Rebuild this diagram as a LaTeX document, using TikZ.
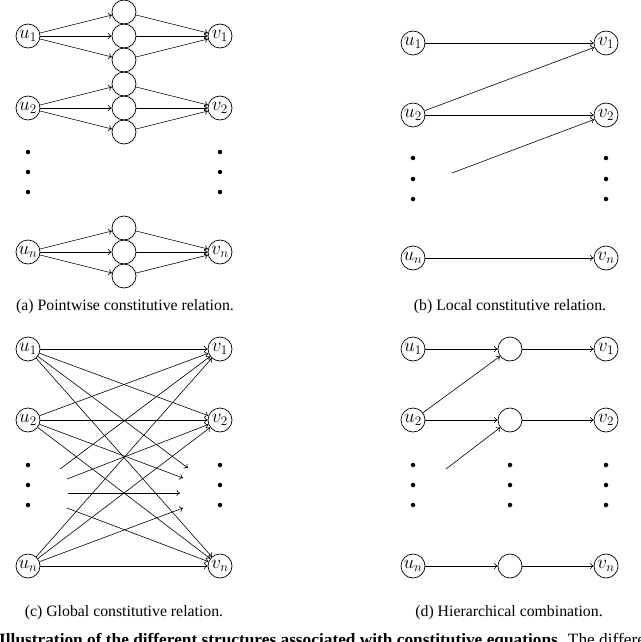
\documentclass[tikz,border=0pt]{standalone}
\usepackage{fontspec}
\setmainfont{Liberation Serif}
\usetikzlibrary{arrows.meta}
\newcommand\lab[1]{\scalebox{1.1}{$#1$}}
\begin{document}
\begin{tikzpicture}[x=1pt,y=-1pt,
  nd/.style={circle,draw,line width=0.7pt,minimum size=24pt,inner sep=0pt,font=\fontsize{18}{20}\selectfont},
  hid/.style={circle,draw,line width=0.7pt,minimum size=24pt,inner sep=0pt},
  ar/.style={line width=0.6pt,-{To[length=3.5pt,width=6pt]}},
  dotn/.style={circle,fill,inner sep=0pt,minimum size=4.5pt},
  captxt/.style={anchor=base,font=\fontsize{15.8}{18}\selectfont}]
\useasboundingbox (0,0) rectangle (640,642);
\clip (0,0) rectangle (640,642);

% ---------------- (a) ----------------
\node[nd] (au1) at (28,36) {\lab{u_1}};
\node[nd] (au2) at (28,108) {\lab{u_2}};
\node[nd] (aun) at (28,252) {\lab{u_n}};
\node[nd] (av1) at (220,36) {\lab{v_1}};
\node[nd] (av2) at (220,108) {\lab{v_2}};
\node[nd] (avn) at (220,252) {\lab{v_n}};
\foreach \i/\y in {1/12,2/36,3/60,4/84,5/108,6/132,7/228,8/252,9/276}
  \node[hid] (am\i) at (124,\y) {};
\foreach \y [count=\k] in {152,172,192} {
  \node[dotn] (adl\k) at (28,\y) {};
  \node[dotn] (adr\k) at (220,\y) {};
}
\foreach \m in {1,2,3} { \draw[ar] (au1) -- (am\m); \draw[ar] (am\m) -- (av1); }
\foreach \m in {4,5,6} { \draw[ar] (au2) -- (am\m); \draw[ar] (am\m) -- (av2); }
\foreach \m in {7,8,9} { \draw[ar] (aun) -- (am\m); \draw[ar] (am\m) -- (avn); }
\node[captxt] (capa) at (125,310) {(a) Pointwise constitutive relation.};

% ---------------- (b) ----------------
\node[nd] (bu1) at (413,43) {\lab{u_1}};
\node[nd] (bu2) at (413,115) {\lab{u_2}};
\node[nd] (bun) at (413,258) {\lab{u_n}};
\node[nd] (bv1) at (606,43) {\lab{v_1}};
\node[nd] (bv2) at (606,115) {\lab{v_2}};
\node[nd] (bvn) at (606,258) {\lab{v_n}};
\foreach \y [count=\k] in {158,179,199} {
  \node[dotn] (bdl\k) at (413,\y) {};
  \node[dotn] (bdr\k) at (606,\y) {};
}
\coordinate (bfree) at (452,173);
\draw[ar] (bu1) -- (bv1);
\draw[ar] (bu2) -- (bv1);
\draw[ar] (bu2) -- (bv2);
\draw[ar] (bfree) -- (bv2);
\draw[ar] (bun) -- (bvn);
\node[captxt] (capb) at (510,310) {(b) Local constitutive relation.};

% ---------------- (c) ----------------
\node[nd] (cu1) at (28,349) {\lab{u_1}};
\node[nd] (cu2) at (28,420) {\lab{u_2}};
\node[nd] (cun) at (28,566) {\lab{u_n}};
\node[nd] (cv1) at (220,349) {\lab{v_1}};
\node[nd] (cv2) at (220,420) {\lab{v_2}};
\node[nd] (cvn) at (220,566) {\lab{v_n}};
\foreach \y [count=\k] in {465,485,505} {
  \node[dotn] (cdl\k) at (28,\y) {};
  \node[dotn] (cdr\k) at (220,\y) {};
}
\coordinate (cl1) at (60,469);
\coordinate (cl2) at (67,479);
\coordinate (cl3) at (68,493);
\coordinate (cl4) at (67,508);
\coordinate (cr1) at (188,468);
\coordinate (cr2) at (183,478);
\coordinate (cr3) at (180,493);
\coordinate (cr4) at (183,508);
\draw[ar] (cu1) -- (cv1);
\draw[ar] (cu1) -- (cv2);
\draw[ar] (cu1) -- (cr1);
\draw[ar] (cu1) -- (cvn);
\draw[ar] (cu2) -- (cv1);
\draw[ar] (cu2) -- (cv2);
\draw[ar] (cu2) -- (cr2);
\draw[ar] (cu2) -- (cvn);
\draw[ar] (cl1) -- (cv1);
\draw[ar] (cl2) -- (cv2);
\draw[ar] (cl3) -- (cr3);
\draw[ar] (cl4) -- (cvn);
\draw[ar] (cun) -- (cv1);
\draw[ar] (cun) -- (cv2);
\draw[ar] (cun) -- (cr4);
\draw[ar] (cun) -- (cvn);
\node[captxt] (capc) at (124,616) {(c) Global constitutive relation.};

% ---------------- (d) ----------------
\node[nd] (du1) at (413,349) {\lab{u_1}};
\node[nd] (du2) at (413,420) {\lab{u_2}};
\node[nd] (dun) at (413,566) {\lab{u_n}};
\node[hid] (dm1) at (510,349) {};
\node[hid] (dm2) at (510,420) {};
\node[hid] (dmn) at (510,566) {};
\node[nd] (dv1) at (606,349) {\lab{v_1}};
\node[nd] (dv2) at (606,420) {\lab{v_2}};
\node[nd] (dvn) at (606,566) {\lab{v_n}};
\foreach \y [count=\k] in {465,485,505} {
  \node[dotn] (ddl\k) at (413,\y) {};
  \node[dotn] (ddm\k) at (510,\y) {};
  \node[dotn] (ddr\k) at (606,\y) {};
}
\coordinate (dfree) at (446,469);
\draw[ar] (du1) -- (dm1);
\draw[ar] (dm1) -- (dv1);
\draw[ar] (du2) -- (dm1);
\draw[ar] (du2) -- (dm2);
\draw[ar] (dm2) -- (dv2);
\draw[ar] (dfree) -- (dm2);
\draw[ar] (dun) -- (dmn);
\draw[ar] (dmn) -- (dvn);
\node[captxt] (capd) at (509,616) {(d) Hierarchical combination.};

% ---------------- figure caption (cut off at the bottom edge) ----------------
\node[anchor=base west,inner sep=0pt,font=\fontsize{17.3}{20}\selectfont] (figcap) at (-1,645) {\textbf{Illustration of the different structures associated with constitutive equations.} The different};
\end{tikzpicture}
\end{document}
